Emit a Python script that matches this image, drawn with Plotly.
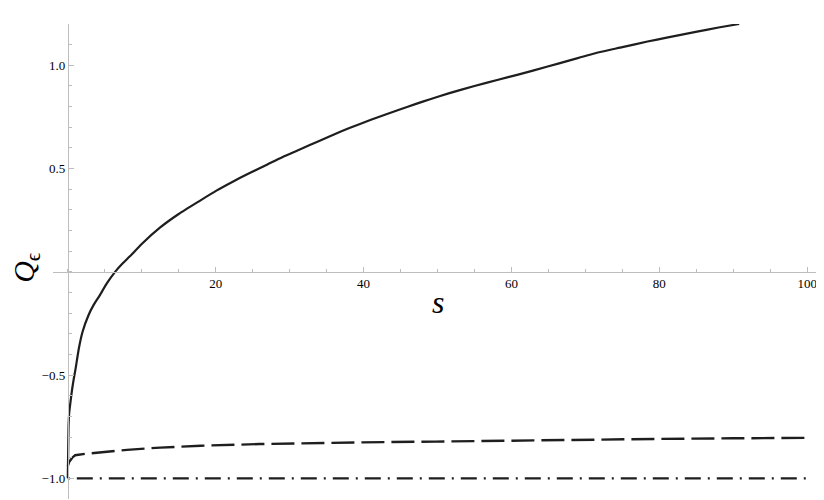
import plotly.graph_objects as go

# Solid curve
s_solid = [0, 0.1, 0.2, 0.4, 0.6, 0.8, 1.05, 1.5, 2.0, 2.8, 3.5, 4.3, 5.3, 6.4, 7.4, 8.4, 10,
           12.5, 15, 17.9, 20.1, 22.5, 24.6, 27, 29, 31.3, 34, 36, 38, 41, 44.8, 47, 49, 51.5,
           55, 58.2, 60.9, 64.9, 68, 71.7, 75, 78.4, 81, 85.1, 88, 90.8]
q_solid = [-1.0, -0.75, -0.68, -0.62, -0.565, -0.52, -0.47, -0.37, -0.29, -0.21, -0.16, -0.115,
           -0.055, 0.0, 0.04, 0.075, 0.135, 0.215, 0.28, 0.345, 0.393, 0.44, 0.478, 0.52, 0.555,
           0.591, 0.634, 0.665, 0.695, 0.736, 0.785, 0.812, 0.836, 0.864, 0.9, 0.93, 0.955,
           0.994, 1.025, 1.062, 1.088, 1.115, 1.134, 1.163, 1.183, 1.2]

# Dashed curve
s_dashed = [0, 0.2, 0.6, 1.0, 2.4, 5.5, 8, 12.5, 18, 25.9, 32, 39.4, 49.7, 60, 70, 80, 90, 100]
q_dashed = [-0.94, -0.92, -0.90, -0.888, -0.881, -0.870, -0.862, -0.851, -0.842, -0.834, -0.830,
            -0.826, -0.822, -0.817, -0.813, -0.809, -0.806, -0.804]

# Dash-dot line
s_dashdot = [0, 100]
q_dashdot = [-1.0, -1.0]

# Axis ticks
x_tickvals = [20, 40, 60, 80, 100]
x_ticktext = ["20", "40", "60", "80", "100"]
y_tickvals = [-1.0, -0.5, 0.5, 1.0]
y_ticktext = ["\u22121.0", "\u22120.5", "0.5", "1.0"]

X_RANGE = [-2, 102]
Y_RANGE = [-1.1, 1.2]

line_color = "#1e1e1e"
axis_color = "#bdbdbd"
serif = "'Liberation Serif', 'Times New Roman', 'DejaVu Serif', serif"

fig = go.Figure()
fig.add_trace(go.Scatter(x=s_dashdot, y=q_dashdot, mode="lines",
                         line=dict(color=line_color, width=2.4, dash="2px,7px,16px,7px"),
                         hoverinfo="skip"))
fig.add_trace(go.Scatter(x=s_dashed, y=q_dashed, mode="lines",
                         line=dict(color=line_color, width=2.4, dash="23px,7px"),
                         hoverinfo="skip"))
fig.add_trace(go.Scatter(x=s_solid, y=q_solid, mode="lines",
                         line=dict(color=line_color, width=2.2, shape="spline", smoothing=0.5),
                         hoverinfo="skip"))

xpos = (0 - Y_RANGE[0]) / (Y_RANGE[1] - Y_RANGE[0])
ypos = (0 - X_RANGE[0]) / (X_RANGE[1] - X_RANGE[0])

# page body has an 8px default margin, so the figure is 816x492 placed at (8, 8)
fig.update_layout(
    width=816, height=492,
    margin=dict(l=45, r=2, t=16, b=1),
    paper_bgcolor="white", plot_bgcolor="white",
    showlegend=False,
    font=dict(family=serif, color="black"),
    xaxis=dict(range=X_RANGE, anchor="free", position=xpos, showline=True,
               linecolor=axis_color, linewidth=1, ticks="inside", ticklen=5,
               tickcolor=axis_color, tickwidth=1, tickvals=x_tickvals, ticktext=x_ticktext,
               minor=dict(ticks="inside", ticklen=3, dtick=5, tick0=0, tickcolor=axis_color),
               showgrid=False, zeroline=False, automargin=False,
               tickfont=dict(family=serif, size=13, color="black")),
    yaxis=dict(range=Y_RANGE, anchor="free", position=ypos, showline=True,
               linecolor=axis_color, linewidth=1, ticks="inside", ticklen=5,
               tickcolor=axis_color, tickwidth=1, tickvals=y_tickvals, ticktext=y_ticktext,
               minor=dict(ticks="inside", ticklen=3, dtick=0.1, tick0=0, tickcolor=axis_color),
               showgrid=False, zeroline=False, automargin=False,
               tickfont=dict(family=serif, size=13, color="black")),
    annotations=[
        dict(text="<i>s</i>", xref="paper", yref="paper", x=0.5007, y=0.4157,
             showarrow=False, font=dict(family=serif, size=32, color="black"),
             xanchor="center", yanchor="middle"),
        dict(text="<i>Q</i><sub>\u03f5</sub>", xref="paper", yref="paper", x=-0.0351, y=0.4866,
             showarrow=False, textangle=-90, font=dict(family=serif, size=30, color="black"),
             xanchor="center", yanchor="middle"),
    ],
)

fig.write_html("out.html")
